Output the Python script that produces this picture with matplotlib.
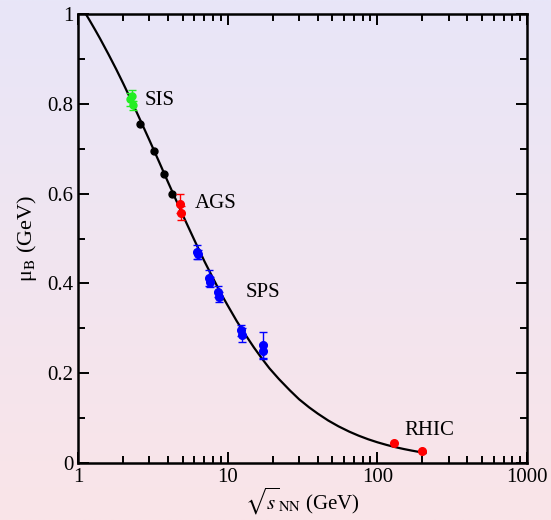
import numpy as np
import matplotlib.pyplot as plt
from matplotlib.ticker import FixedLocator, NullFormatter

plt.rcParams['font.family'] = ['Liberation Serif', 'DejaVu Serif']
plt.rcParams['mathtext.fontset'] = 'stix'

# freeze-out curve
curve_x = [1.1, 1.2, 1.3, 1.4, 1.6, 1.8, 2.0, 2.2, 2.5, 2.8, 3.0, 3.5, 4.0, 4.5, 5.0, 6.0, 7.0,
           8.0, 9.0, 10, 11.5, 13, 15, 17, 19, 22, 26, 30, 35, 40, 47, 55, 65, 75, 87, 100,
           115, 130, 150, 170, 190, 210]
curve_y = [1.006, 0.985, 0.965, 0.946, 0.910, 0.877, 0.846, 0.817, 0.777, 0.741, 0.719, 0.669,
           0.625, 0.587, 0.553, 0.496, 0.449, 0.411, 0.378, 0.351, 0.316, 0.288, 0.257, 0.232,
           0.211, 0.187, 0.162, 0.142, 0.124, 0.110, 0.0946, 0.0817, 0.0698, 0.0609, 0.0528,
           0.0462, 0.0404, 0.0358, 0.0312, 0.0276, 0.0247, 0.0224]

sis_x = [2.24, 2.28, 2.32]
sis_y = [0.810, 0.818, 0.797]
sis_err = [0.015, 0.012, 0.01]

black_x = [2.59, 3.21, 3.74, 4.23]
black_y = [0.755, 0.695, 0.644, 0.599]

ags_x = [4.8, 4.85]
ags_y = [0.578, 0.557]
ags_err = [0.022, 0.015]

sps_x = [6.2, 6.3, 7.5, 7.6, 8.6, 8.7, 12.3, 12.4, 17.2, 17.3]
sps_y = [0.470, 0.465, 0.412, 0.403, 0.382, 0.370, 0.296, 0.285, 0.262, 0.250]
sps_err = [0.015, 0.01, 0.018, 0.012, 0.012, 0.012, 0.012, 0.015, 0.03, 0.015]

rhic_x = [130, 200]
rhic_y = [0.044, 0.027]
rhic_err = [0.006, 0.004]

fig = plt.figure(figsize=(5.51, 5.20), dpi=100)

# background gradient
bg = fig.add_axes([0, 0, 1, 1], zorder=-10)
top = np.array([232, 230, 248]) / 255
bot = np.array([250, 228, 232]) / 255
t = np.linspace(0, 1, 256)[:, None]
grad = top * (1 - t[..., None]) + bot * t[..., None]
bg.imshow(grad, aspect='auto', extent=[0, 1, 0, 1])
bg.axis('off')

ax = fig.add_axes([0.1416, 0.1096, 0.8148, 0.8634])
ax.patch.set_alpha(0)

ax.plot(curve_x, curve_y, color='black', lw=1.6)
ax.errorbar(sis_x, sis_y, yerr=sis_err, fmt='o', color='#22ee22', ms=5, capsize=3, elinewidth=1)
ax.plot(black_x, black_y, 'o', color='black', ms=5)
ax.errorbar(ags_x, ags_y, yerr=ags_err, fmt='o', color='red', ms=5.5, capsize=3, elinewidth=1)
ax.errorbar(sps_x, sps_y, yerr=sps_err, fmt='o', color='blue', ms=5.5, capsize=3, elinewidth=1)
ax.errorbar(rhic_x, rhic_y, yerr=rhic_err, fmt='o', color='red', ms=5.5, capsize=0, elinewidth=3)

ax.set_xscale('log')
ax.set_xlim(1, 1000)
ax.set_ylim(0, 1)
ax.set_xticks([1, 10, 100, 1000])
ax.set_xticklabels(['1', '10', '100', '1000'])
ax.set_yticks([0, 0.2, 0.4, 0.6, 0.8, 1.0])
ax.set_yticklabels(['0', '0.2', '0.4', '0.6', '0.8', '1'])
ax.yaxis.set_minor_locator(FixedLocator([0.1, 0.3, 0.5, 0.7, 0.9]))
ax.xaxis.set_minor_formatter(NullFormatter())
ax.tick_params(which='both', direction='in', top=True, right=True, labelsize=15, width=1.4)
ax.tick_params(which='major', length=8)
ax.tick_params(which='minor', length=5)
for s in ax.spines.values():
    s.set_linewidth(1.8)

ax.set_xlabel(r'$\sqrt{s}_{\rm NN}$ (GeV)', fontsize=15, labelpad=-1)
ax.set_ylabel('μ$_{\\rm B}$ (GeV)', fontsize=16, labelpad=6)

ax.text(2.8, 0.808, 'SIS', fontsize=15, va='center')
ax.text(6.0, 0.577, 'AGS', fontsize=15, va='center')
ax.text(13.2, 0.379, 'SPS', fontsize=15, va='center')
ax.text(151, 0.0735, 'RHIC', fontsize=15, va='center')

fig.savefig('out.png', dpi=100)
